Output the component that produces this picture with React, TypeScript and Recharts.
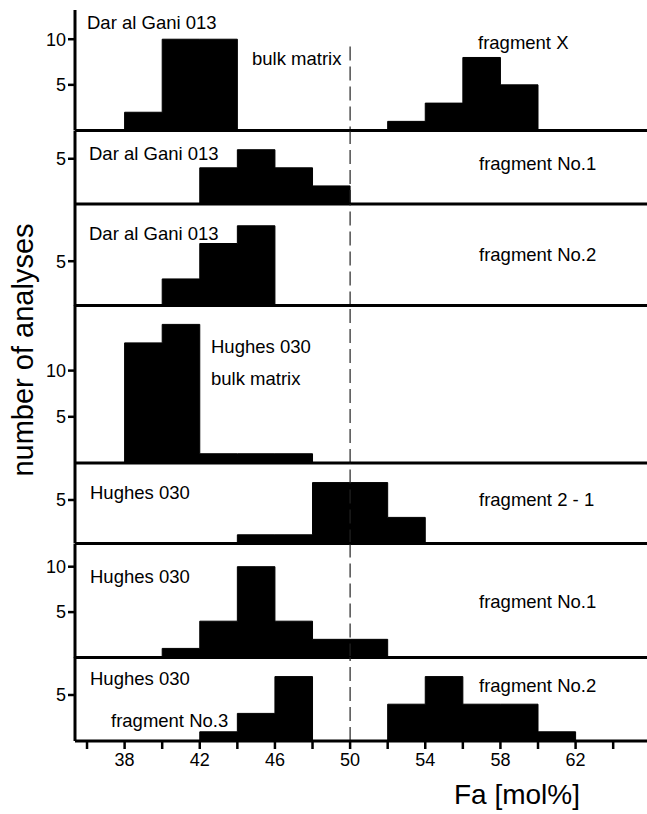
import React from "react";
import {
  ComposedChart,
  Area,
  XAxis,
  YAxis,
  ReferenceLine,
} from "recharts";

// ---- data (Fa mol% histogram bins, width 2) ----
const binStart = [36, 38, 40, 42, 44, 46, 48, 50, 52, 54, 56, 58, 60, 62, 64];
const binEnd = 66;

const dagBulkMatrix = [0, 2, 10, 10, 0, 0, 0, 0, 0, 0, 0, 0, 0, 0, 0];
const dagFragmentX = [0, 0, 0, 0, 0, 0, 0, 0, 1, 3, 8, 5, 0, 0, 0];
const dagFragmentNo1 = [0, 0, 0, 4, 6, 4, 2, 0, 0, 0, 0, 0, 0, 0, 0];
const dagFragmentNo2 = [0, 0, 3, 7, 9, 0, 0, 0, 0, 0, 0, 0, 0, 0, 0];
const hughesBulkMatrix = [0, 13, 15, 1, 1, 1, 0, 0, 0, 0, 0, 0, 0, 0, 0];
const hughesFragment21 = [0, 0, 0, 0, 1, 1, 7, 7, 3, 0, 0, 0, 0, 0, 0];
const hughesFragmentNo1 = [0, 0, 1, 4, 10, 4, 2, 2, 0, 0, 0, 0, 0, 0, 0];
const hughesFragmentNo3 = [0, 0, 0, 1, 3, 7, 0, 0, 0, 0, 0, 0, 0, 0, 0];
const hughesFragmentNo2 = [0, 0, 0, 0, 0, 0, 0, 0, 4, 7, 4, 4, 1, 0, 0];

const xTicks = [36, 38, 40, 42, 44, 46, 48, 50, 52, 54, 56, 58, 60, 62, 64];
const xTickLabels = [38, 42, 46, 50, 54, 58, 62];
const referenceFa = 50;

// ---- layout ----
const W = 647;
const H = 814;
const PAD = 6;
const AXIS_LEFT = 75;
const X_DOMAIN: [number, number] = [35.36, 65.8];
const FONT = "'Liberation Sans', Arial, Helvetica, sans-serif";

type Panel = {
  a: number[];
  b?: number[];
  top: number;
  base: number;
  yMax: number;
  yTicks: number[];
  refFrom?: number;
};

const panels: Panel[] = [
  { a: dagBulkMatrix, b: dagFragmentX, top: 10, base: 130.5, yMax: 13.2, yTicks: [5, 10], refFrom: 9.2 },
  { a: dagFragmentNo1, top: 130.5, base: 203.5, yMax: 8.07, yTicks: [5] },
  { a: dagFragmentNo2, top: 203.5, base: 305, yMax: 11.46, yTicks: [5] },
  { a: hughesBulkMatrix, top: 305, base: 463, yMax: 17.1, yTicks: [5, 10] },
  { a: hughesFragment21, top: 463, base: 543.5, yMax: 9.25, yTicks: [5] },
  { a: hughesFragmentNo1, top: 543.5, base: 657, yMax: 12.5, yTicks: [5, 10] },
  { a: hughesFragmentNo3, b: hughesFragmentNo2, top: 657, base: 741, yMax: 9.13, yTicks: [5] },
];

const labels = [
  { t: "Dar al Gani 013", x: 87, y: 22 },
  { t: "bulk matrix", x: 252, y: 58 },
  { t: "fragment X", x: 478, y: 42 },
  { t: "Dar al Gani 013", x: 89, y: 153 },
  { t: "fragment No.1", x: 479, y: 163 },
  { t: "Dar al Gani 013", x: 89, y: 233 },
  { t: "fragment No.2", x: 479, y: 254 },
  { t: "Hughes 030", x: 211, y: 346 },
  { t: "bulk matrix", x: 211, y: 378 },
  { t: "Hughes 030", x: 90, y: 492 },
  { t: "fragment 2 - 1", x: 479, y: 499 },
  { t: "Hughes 030", x: 90, y: 576 },
  { t: "fragment No.1", x: 479, y: 601 },
  { t: "Hughes 030", x: 90, y: 678 },
  { t: "fragment No.2", x: 479, y: 685 },
  { t: "fragment No.3", x: 111, y: 720 },
];

function buildRows(a: number[], b?: number[]) {
  const rows = binStart.map((s, i) => ({ fa: s, a: a[i], b: b ? b[i] : 0 }));
  rows.push({ fa: binEnd, a: 0, b: 0 });
  return rows;
}

function PanelChart({ p, last }: { p: Panel; last: boolean }) {
  const xAxisH = last ? 34 : 0;
  const h = p.base - p.top + PAD + (last ? xAxisH : PAD);
  const rows = buildRows(p.a, p.b);
  return (
    <div style={{ position: "absolute", left: 0, top: p.top - PAD }}>
      <ComposedChart
        width={W}
        height={h}
        data={rows}
        margin={{ top: PAD, right: 0, bottom: last ? 0 : PAD, left: 0 }}
      >
        <XAxis
          dataKey="fa"
          type="number"
          domain={X_DOMAIN}
          allowDataOverflow
          ticks={xTicks}
          interval={0}
          hide={!last}
          height={xAxisH}
          axisLine={{ stroke: "#000", strokeWidth: 3 }}
          tickLine={{ stroke: "#000", strokeWidth: 2.5 }}
          tickSize={8}
          tickMargin={4}
          tick={{ fill: "#000", fontSize: 18, fontFamily: FONT }}
          tickFormatter={(v: number) => (xTickLabels.includes(v) ? String(v) : "")}
        />
        <YAxis
          type="number"
          domain={[0, p.yMax]}
          allowDataOverflow
          ticks={p.yTicks}
          interval={0}
          width={AXIS_LEFT}
          axisLine={{ stroke: "#000", strokeWidth: 3 }}
          tickLine={{ stroke: "#000", strokeWidth: 2.5 }}
          tickSize={7}
          tickMargin={2}
          tick={{ fill: "#000", fontSize: 18, fontFamily: FONT }}
        />
        {p.refFrom !== undefined ? (
          <ReferenceLine
            segment={[
              { x: referenceFa, y: p.refFrom },
              { x: referenceFa, y: 0 },
            ]}
            stroke="#222"
            strokeWidth={1.2}
            strokeDasharray="14 6"
          />
        ) : (
          <ReferenceLine x={referenceFa} stroke="#222" strokeWidth={1.2} strokeDasharray="14 6" />
        )}
        <Area
          type="stepAfter"
          dataKey="a"
          stroke="#000"
          strokeWidth={1}
          fill="#000"
          fillOpacity={1}
          isAnimationActive={false}
          dot={false}
          activeDot={false}
        />
        {p.b ? (
          <Area
            type="stepAfter"
            dataKey="b"
            stroke="#000"
            strokeWidth={1}
            fill="#000"
            fillOpacity={1}
            isAnimationActive={false}
            dot={false}
            activeDot={false}
          />
        ) : null}
        {!last ? <ReferenceLine y={0} stroke="#000" strokeWidth={3} /> : null}
      </ComposedChart>
    </div>
  );
}

export default function App() {
  return (
    <div
      style={{
        position: "fixed",
        left: 0,
        top: 0,
        width: W,
        height: H,
        background: "#fff",
        overflow: "hidden",
      }}
    >
      {panels.map((p, i) => (
        <PanelChart key={i} p={p} last={i === panels.length - 1} />
      ))}
      <svg
        width={W}
        height={H}
        style={{ position: "absolute", left: 0, top: 0, pointerEvents: "none" }}
      >
        {labels.map((l, i) => (
          <text
            key={i}
            x={l.x}
            y={l.y}
            dominantBaseline="central"
            fontFamily={FONT}
            fontSize={18.5}
            fill="#000"
          >
            {l.t}
          </text>
        ))}
        <text
          x={517}
          y={804}
          textAnchor="middle"
          fontFamily={FONT}
          fontSize={28}
          fill="#000"
        >
          Fa [mol%]
        </text>
        <text
          transform="translate(33,350) rotate(-90)"
          textAnchor="middle"
          fontFamily={FONT}
          fontSize={29}
          fill="#000"
        >
          number of analyses
        </text>
      </svg>
    </div>
  );
}
